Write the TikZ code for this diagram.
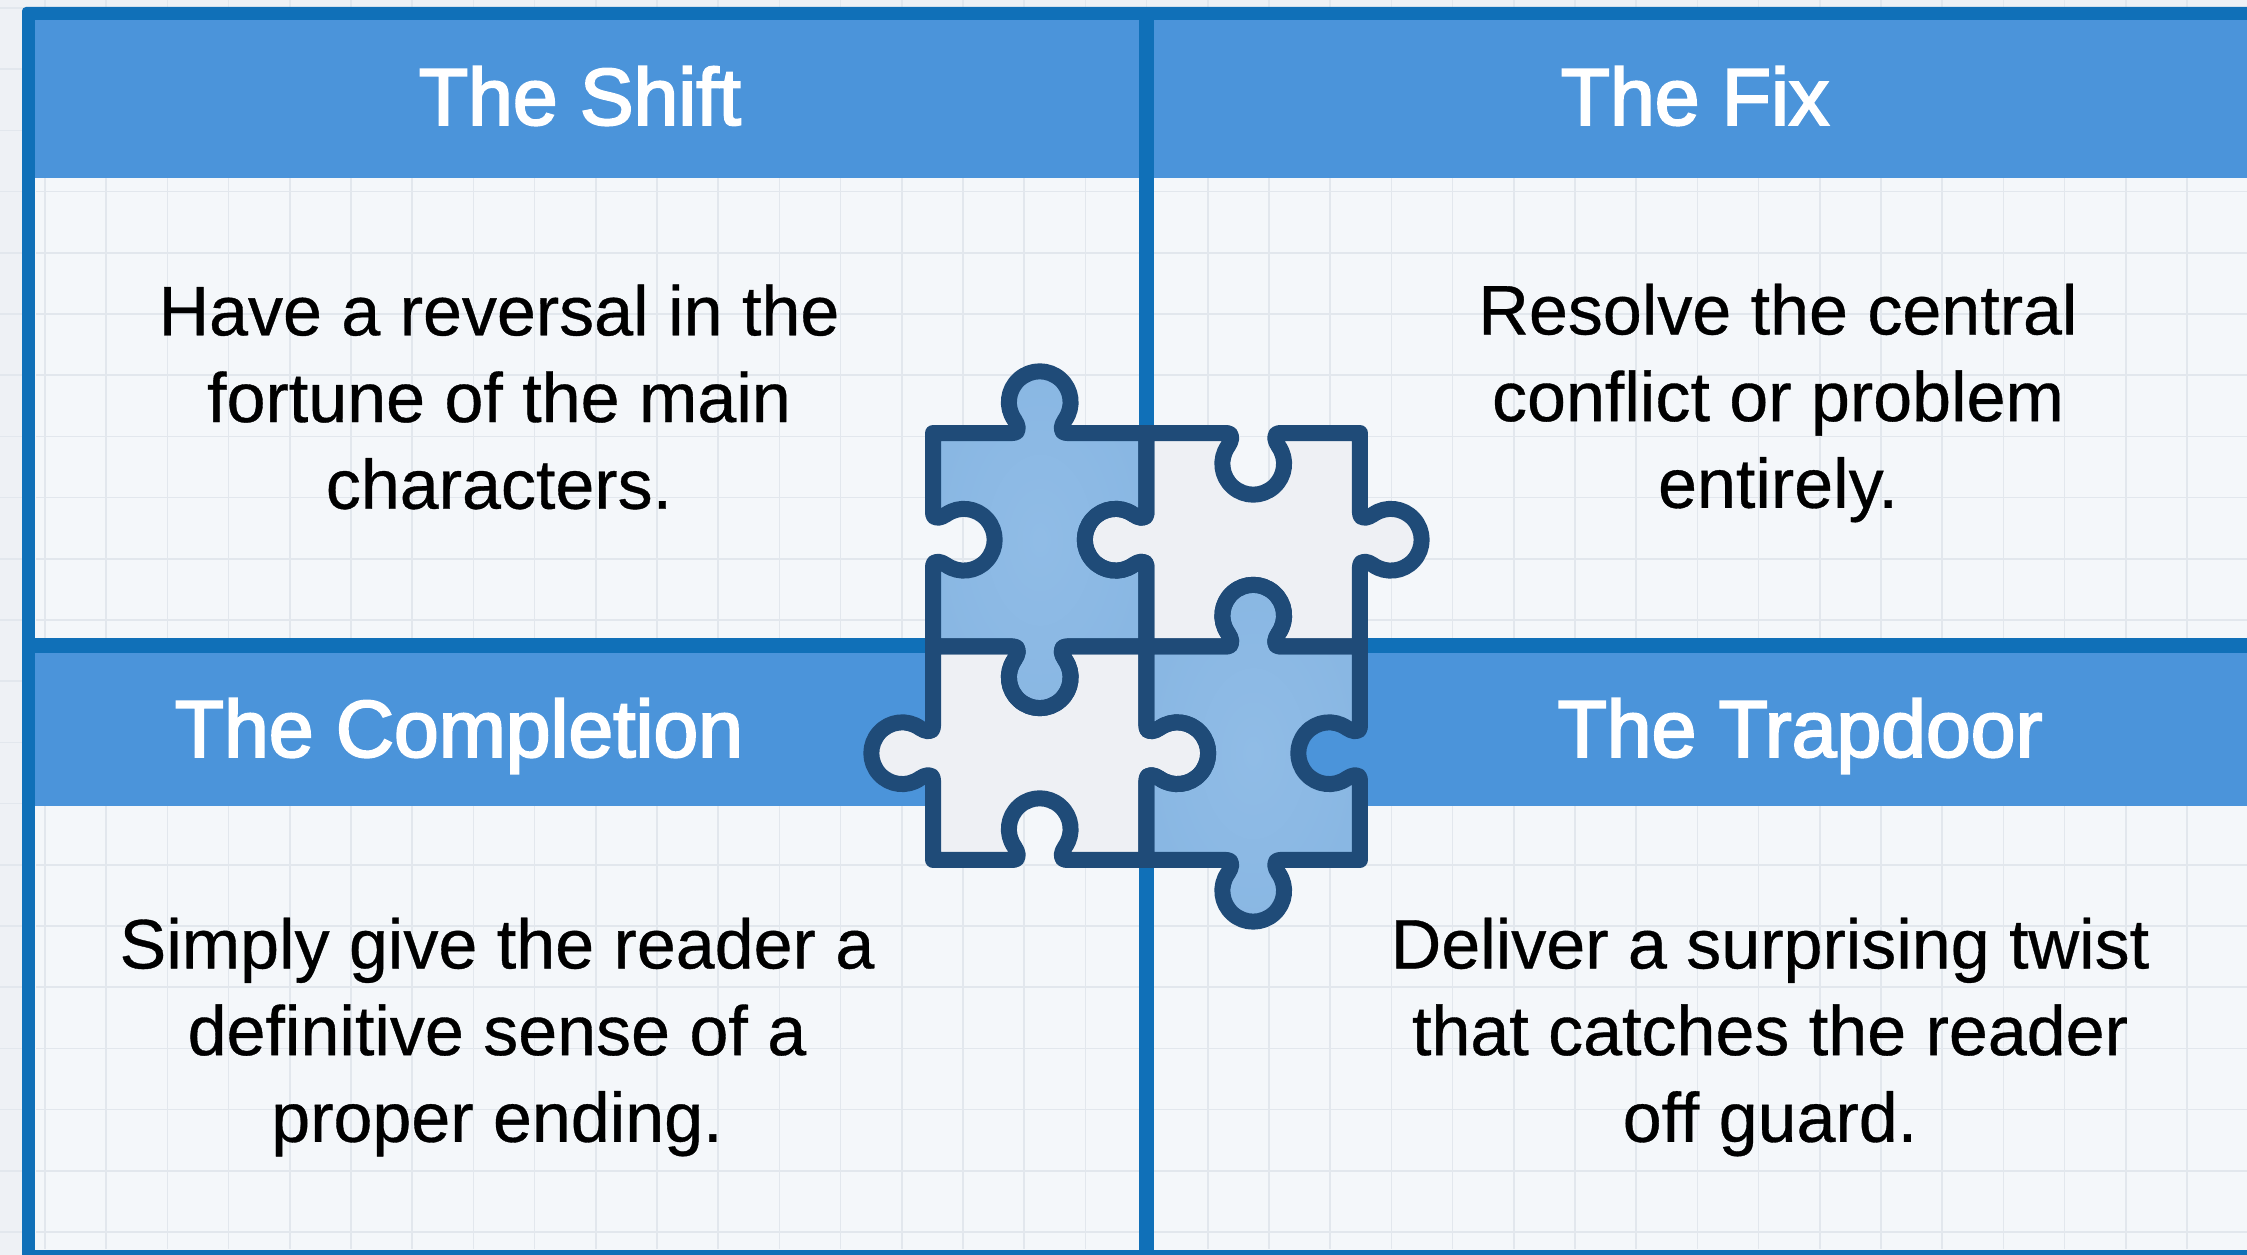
\documentclass[tikz,border=0pt]{standalone}
\usepackage{fontspec}
\setmainfont{Liberation Sans}
\newfontfamily\headfont[FakeBold=2.6]{Liberation Sans}
\newfontfamily\bodyfont[FakeBold=0.5]{Liberation Sans}
\definecolor{pagebg}{HTML}{EEF1F5}
\definecolor{panelbg}{HTML}{F4F7FA}
\definecolor{gridc}{HTML}{E2E7ED}
\definecolor{framec}{HTML}{1070B8}
\definecolor{headc}{HTML}{4B94DA}
\definecolor{linec}{HTML}{1F4B78}
\definecolor{tileblue}{HTML}{90BCE6}
\definecolor{tileblueb}{HTML}{89B7E3}
\definecolor{tilegray}{HTML}{EEF0F4}
\tikzset{
  headtext/.style={text=white,font=\headfont\fontsize{80.5}{90}\selectfont,inner sep=0pt,anchor=center},
  bodytext/.style={text=black,font=\bodyfont\fontsize{70}{86.7}\selectfont,align=center,inner sep=0pt,anchor=center},
  tileline/.style={draw=linec,line width=16pt,line join=round},
  bluetile/.style={inner color=tileblue,outer color=tileblueb},
  graytile/.style={fill=tilegray}
}
\def\tabedge{ -- (67,0) .. controls (74,0) and (71.5,-7) .. (68.7,-11.1)
  .. controls (61.1,-21.9) and (62.8,-36.6) .. (72.7,-45.4)
  .. controls (82.6,-54.2) and (97.4,-54.2) .. (107.3,-45.4)
  .. controls (117.2,-36.6) and (118.9,-21.9) .. (111.3,-11.1)
  .. controls (108.5,-7) and (106,0) .. (113,0) -- (180,0)}
\newcommand\tilepath[4]{(0,0) {[yscale=#1]\tabedge}
  {[shift={(180,0)},rotate=-90,yscale=#2]\tabedge}
  {[shift={(180,180)},rotate=180,yscale=#3]\tabedge}
  {[shift={(0,180)},rotate=90,yscale=#4]\tabedge} -- cycle}
\begin{document}
\begin{tikzpicture}[x=1pt,y=-1pt]
\useasboundingbox (0,0) rectangle (2247,1255);
\begin{scope}
\clip (0,0) rectangle (2247,1255);
\fill[pagebg] (0,0) rectangle (2247,1255);
% outer grid
\foreach \i in {0,...,36} \draw[gridc,line width=1.5pt] ({45+61.2*\i},0) -- ({45+61.2*\i},1255);
\foreach \j in {0,...,20} \draw[gridc,line width=1.5pt] (0,{8+61.2*\j}) -- (2247,{8+61.2*\j});
% frame
\fill[framec,rounded corners=4pt] (22,7) rectangle (2260,1270);
\fill[panelbg] (35,20) rectangle (2247,1250);
\foreach \i in {0,...,36} \draw[gridc,line width=1.5pt] ({45+61.2*\i},21) -- ({45+61.2*\i},1249);
\foreach \j in {1,...,20} \draw[gridc,line width=1.5pt] (36,{8+61.2*\j}) -- (2247,{8+61.2*\j});
% headers
\fill[headc] (35,20) rectangle (2247,178);
\fill[headc] (35,653) rectangle (2247,806);
\fill[framec] (1139,20) rectangle (1154,1250);
\fill[framec] (35,638) rectangle (2247,653);
\end{scope}
% texts
\node[headtext] (h1) at (580,96) {The Shift};
\node[headtext] (h2) at (1695,96) {The Fix};
\node[headtext] (h3) at (459,736) {The Completion};
\node[headtext] (h4) at (1800,736) {The Trapdoor};
\node[bodytext] (b1) at (499,397) {Have a reversal in the\\fortune of the main\\characters.};
\node[bodytext] (b2) at (1778,403) {Resolve the central\\conflict or problem\\entirely.};
\node[bodytext] (b3) at (497,1037) {Simply give the reader a\\definitive sense of a\\proper ending.};
\node[bodytext] (b4) at (1770,1037) {Deliver a surprising twist\\that catches the reader\\off guard.};
% puzzle
\begin{scope}[shift={(933,433)},scale=1.186]
\begin{scope}[shift={(180,0)}]\fill[graytile] \tilepath{-1}{1}{-1}{1};\end{scope}
\begin{scope}[shift={(0,180)}]\fill[graytile] \tilepath{-1}{1}{-1}{1};\end{scope}
\begin{scope}[shift={(0,0)}]\shade[bluetile] \tilepath{1}{-1}{1}{-1};\end{scope}
\begin{scope}[shift={(180,180)}]\shade[bluetile] \tilepath{1}{-1}{1}{-1};\end{scope}
\begin{scope}[shift={(180,0)}]\draw[tileline] \tilepath{-1}{1}{-1}{1};\end{scope}
\begin{scope}[shift={(0,180)}]\draw[tileline] \tilepath{-1}{1}{-1}{1};\end{scope}
\begin{scope}[shift={(0,0)}]\draw[tileline] \tilepath{1}{-1}{1}{-1};\end{scope}
\begin{scope}[shift={(180,180)}]\draw[tileline] \tilepath{1}{-1}{1}{-1};\end{scope}
\end{scope}
\end{tikzpicture}
\end{document}
